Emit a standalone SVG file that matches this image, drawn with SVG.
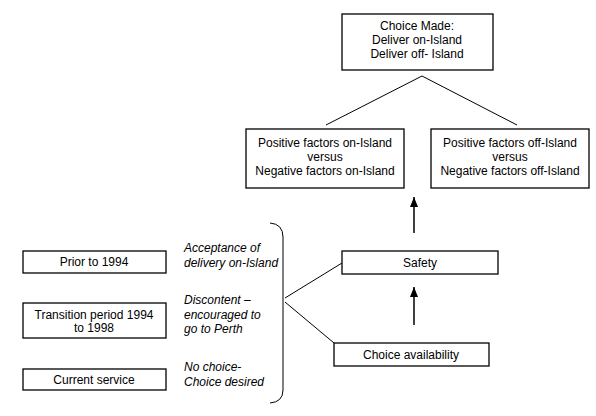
<svg xmlns="http://www.w3.org/2000/svg" width="596" height="416" viewBox="0 0 596 416">
<defs>
<style>
.box{fill:#fff;stroke:#000;stroke-width:1.3}
.t{font-family:"Liberation Sans",Arial,sans-serif;font-size:12px;fill:#000;text-anchor:middle}
.it{font-family:"Liberation Sans",Arial,sans-serif;font-size:12px;font-style:italic;fill:#000}
.ln{stroke:#000;stroke-width:1;fill:none}
.ar{stroke:#000;stroke-width:1.5;fill:none;marker-end:url(#ah)}
</style>
<marker id="ah" markerWidth="10" markerHeight="8" refX="10" refY="4" orient="auto" markerUnits="userSpaceOnUse" viewBox="0 0 10 8">
<path d="M0,0 L10,4 L0,8 Z" fill="#000"/>
</marker>
</defs>
<rect width="596" height="416" fill="#fff"/>
<g id="connectors">
<polyline class="ln" points="326,125 422,76 517,125"/>
<path class="ln" d="M270,223 Q283,224 283,237 L283,390 Q283,402 270,403"/>
<line class="ln" x1="285" y1="298" x2="342" y2="263"/>
<line class="ln" x1="285" y1="302" x2="334" y2="343"/>
<line class="ar" x1="414" y1="233" x2="414" y2="197"/>
<line class="ar" x1="414" y1="325" x2="414" y2="287"/>
</g>
<g id="choice-made">
<rect class="box" x="342" y="14" width="151" height="56"/>
<text class="t" x="417" y="30">Choice Made:</text>
<text class="t" x="417" y="44">Deliver on-Island</text>
<text class="t" x="417" y="58">Deliver off- Island</text>
</g>
<g id="on-island">
<rect class="box" x="246" y="129" width="158" height="59"/>
<text class="t" x="325" y="147">Positive factors on-Island</text>
<text class="t" x="325" y="161">versus</text>
<text class="t" x="325" y="175">Negative factors on-Island</text>
</g>
<g id="off-island">
<rect class="box" x="431" y="129" width="158" height="59"/>
<text class="t" x="510" y="147">Positive factors off-Island</text>
<text class="t" x="510" y="161">versus</text>
<text class="t" x="510" y="175">Negative factors off-Island</text>
</g>
<g id="safety">
<rect class="box" x="342" y="251" width="156" height="23"/>
<text class="t" x="420" y="267">Safety</text>
</g>
<g id="choice-availability">
<rect class="box" x="334" y="343" width="155" height="23"/>
<text class="t" x="411" y="359">Choice availability</text>
</g>
<g id="prior">
<rect class="box" x="23" y="251" width="143" height="22"/>
<text class="t" x="94" y="266">Prior to 1994</text>
</g>
<g id="transition">
<rect class="box" x="23" y="303" width="143" height="35"/>
<text class="t" x="94" y="319">Transition period 1994</text>
<text class="t" x="94" y="332">to 1998</text>
</g>
<g id="current">
<rect class="box" x="23" y="369" width="143" height="21"/>
<text class="t" x="94" y="384">Current service</text>
</g>
<g id="labels">
<text class="it" x="184" y="252">Acceptance of</text>
<text class="it" x="184" y="267">delivery on-Island</text>
<text class="it" x="184" y="304">Discontent –</text>
<text class="it" x="184" y="319">encouraged to</text>
<text class="it" x="184" y="333">go to Perth</text>
<text class="it" x="184" y="371">No choice-</text>
<text class="it" x="184" y="386">Choice desired</text>
</g>
</svg>
